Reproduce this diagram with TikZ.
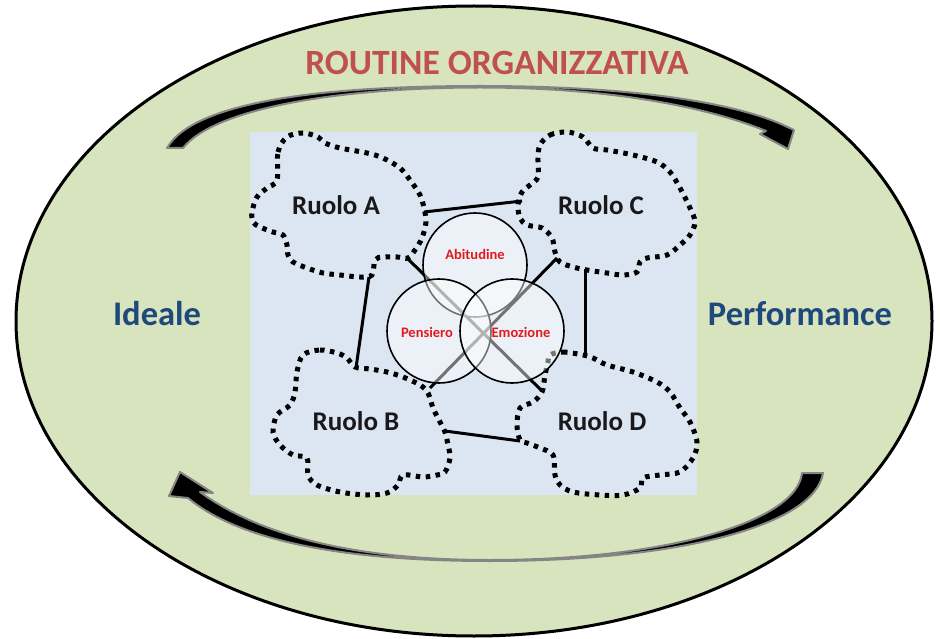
\documentclass[tikz,border=0pt]{standalone}
\usepackage{fontspec}
\setmainfont{Carlito}
\definecolor{ovalgreen}{HTML}{D7E4BD}
\definecolor{panelblue}{HTML}{DCE6F2}
\definecolor{titlered}{HTML}{C0504D}
\definecolor{sideblue}{HTML}{1F497D}
\definecolor{circred}{HTML}{E3191E}
\definecolor{arrowgray}{HTML}{858585}
\begin{document}
\begin{tikzpicture}[x=1pt,y=-1pt,
  cloudline/.style={draw=black, line width=5pt, dash pattern=on 4.5pt off 5.5pt},
  rolelabel/.style={font=\fontsize{27}{30}\selectfont\bfseries, text=black!90, inner sep=0pt},
  link/.style={line width=3pt, draw=black},
  venn/.style={circle, draw=black, line width=1.6pt, fill=white, fill opacity=0.45, text opacity=1, minimum size=104pt, inner sep=0pt},
  vennlabel/.style={font=\fontsize{14.5}{16}\selectfont\bfseries, text=circred, inner sep=0pt},
  bigarrow/.style={fill=black, draw=arrowgray, line width=2pt, line join=round},
  sidelabel/.style={font=\fontsize{34.5}{40}\selectfont\bfseries, text=sideblue, inner sep=0pt},
]
\useasboundingbox (0,0) rectangle (940,639);
% outer oval
\draw[fill=ovalgreen, line width=3pt] (474,321) ellipse [x radius=458, y radius=315];
% central panel
\fill[panelblue] (250,132) rectangle (697,495);
% top curved arrow
\path[bigarrow] (167,148)
  .. controls (195,100) and (330,86) .. (480,86)
  .. controls (630,86) and (730,102) .. (781,124)
  -- (794,130) -- (788,149) -- (760,134) -- (766,131)
  .. controls (715,110) and (620,87.5) .. (480,87.5)
  .. controls (340,87.5) and (215,108) .. (183,148) -- cycle;
% bottom curved arrow
\path[bigarrow] (823,473)
  .. controls (815,525) and (680,561) .. (490,561)
  .. controls (330,561) and (235,537) .. (188,498)
  -- (169,496) -- (180,472) -- (213,493) -- (200,492)
  .. controls (255,532) and (345,560) .. (490,560)
  .. controls (665,560) and (797,522) .. (802,473) -- cycle;
% labels
\node[font=\fontsize{35.5}{40}\selectfont\bfseries, text=titlered, inner sep=0pt] (title) at (497,63) {ROUTINE ORGANIZZATIVA};
\node[sidelabel] (ideale) at (157,314) {Ideale};
\node[sidelabel] (perf) at (800,314) {Performance};
% role clouds (dotted outlines)
\draw[cloudline] plot[smooth cycle, tension=0.55] coordinates {
  (277,180) (278,152) (287,137) (303,133) (318,137) (325,143) (340,148)
  (367,153) (383,158) (400,168) (410,180) (420,195) (424,208) (426,222)
  (422,238) (415,250) (408,258) (397,257) (383,257) (375,260) (372,275)
  (360,277) (340,275) (323,273) (307,268) (293,262) (288,255) (287,245)
  (283,235) (273,232) (260,227) (253,222) (252,212) (257,197) (267,188)};
\draw[cloudline] plot[smooth cycle, tension=0.55] coordinates {
  (540,145) (550,135) (567,132) (583,137) (593,148) (607,150) (633,155)
  (657,162) (670,172) (680,188) (690,208) (695,222) (690,235) (680,245)
  (667,255) (647,258) (640,262) (637,272) (623,275) (607,273) (587,270)
  (573,267) (560,262) (555,252) (552,238) (542,228) (527,225) (520,218)
  (518,205) (522,192) (530,185) (538,177) (538,158)};
\draw[cloudline] plot[smooth cycle, tension=0.55] coordinates {
  (303,355) (320,350) (337,353) (347,358) (355,367) (370,369) (387,372)
  (403,377) (420,385) (428,393) (433,408) (440,422) (445,432) (448,445)
  (450,458) (445,472) (437,475) (423,477) (403,475) (398,485) (387,493)
  (367,495) (340,492) (317,485) (308,475) (307,458) (293,455) (280,445)
  (273,432) (277,415) (290,405) (295,392) (297,372)};
\draw[cloudline] plot[smooth cycle, tension=0.55] coordinates {
  (550,355) (563,352) (583,355) (593,358) (607,365) (633,372) (657,382)
  (670,392) (680,408) (690,422) (697,442) (693,458) (680,472) (660,475)
  (643,478) (640,488) (623,495) (600,495) (573,492) (560,485) (555,475)
  (553,455) (540,448) (527,443) (520,440) (517,425) (520,408) (533,402)
  (542,392) (545,375) (548,362)};
\node[rolelabel] (ra) at (336,205) {Ruolo A};
\node[rolelabel] (rc) at (601,205) {Ruolo C};
\node[rolelabel] (rb) at (356,421) {Ruolo B};
\node[rolelabel] (rd) at (602,421) {Ruolo D};
% connector ends on the cloud outlines
\coordinate (aToC) at (424,212);
\coordinate (cToA) at (522,201);
\coordinate (aToB) at (369,277);
\coordinate (bToA) at (356,368);
\coordinate (cToD) at (585,269);
\coordinate (dToC) at (585,355);
\coordinate (bToD) at (445,431);
\coordinate (dToB) at (520,441);
\coordinate (aToD) at (407,258);
\coordinate (dToA) at (542,391);
\coordinate (cToB) at (557,258);
\coordinate (bToC) at (430,388);
% connectors
\draw[link] (aToC) -- (cToA);
\draw[link] (aToB) -- (bToA);
\draw[link] (cToD) -- (dToC);
\draw[link] (bToD) -- (dToB);
\draw[link] (aToD) -- (dToA);
\draw[link] (cToB) -- (bToC);
% venn circles
\node[venn] (abit) at (475,265) {};
\node[venn] (pens) at (439,331) {};
\node[venn] (emoz) at (512,331) {};
\node[vennlabel] (abitlbl) at (475,254) {Abitudine};
\node[vennlabel] (penslbl) at (427,332) {Pensiero};
\node[vennlabel] (emozlbl) at (521,332) {Emozione};
\end{tikzpicture}
\end{document}
